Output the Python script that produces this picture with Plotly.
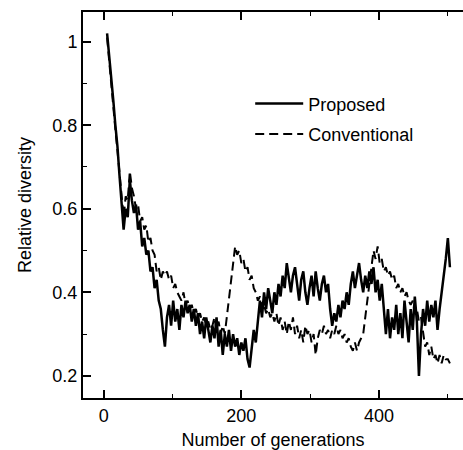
import plotly.graph_objects as go

# Relative diversity, sampled every 3 generations starting at generation 5
gen_start = 5
gen_step = 3

proposed = [
    1.02, 0.97, 0.92, 0.86, 0.80, 0.75, 0.68, 0.62, 0.55, 0.60,
    0.58, 0.67, 0.62, 0.59, 0.61, 0.55, 0.57, 0.51, 0.53, 0.49,
    0.50, 0.45, 0.46, 0.41, 0.43, 0.38, 0.36, 0.31, 0.27, 0.34,
    0.37, 0.32, 0.38, 0.33, 0.36, 0.31, 0.37, 0.34, 0.38, 0.35,
    0.37, 0.33, 0.36, 0.32, 0.35, 0.30, 0.33, 0.29, 0.34, 0.31,
    0.28, 0.32, 0.29, 0.34, 0.27, 0.31, 0.25, 0.30, 0.27, 0.31,
    0.26, 0.30, 0.27, 0.29, 0.25, 0.28, 0.26, 0.29, 0.24, 0.22,
    0.27, 0.31, 0.28, 0.34, 0.38, 0.34, 0.40, 0.36, 0.41, 0.38,
    0.35, 0.40, 0.37, 0.42, 0.39, 0.44, 0.41, 0.47, 0.43, 0.40,
    0.44, 0.46, 0.42, 0.38, 0.43, 0.45, 0.40, 0.37, 0.41, 0.44,
    0.39, 0.45, 0.41, 0.38, 0.42, 0.44, 0.40, 0.42, 0.36, 0.32,
    0.35, 0.33, 0.37, 0.34, 0.38, 0.36, 0.40, 0.37, 0.42, 0.45,
    0.41, 0.44, 0.47, 0.43, 0.40, 0.44, 0.41, 0.45, 0.42, 0.46,
    0.40, 0.43, 0.38, 0.42, 0.35, 0.30, 0.36, 0.29, 0.34, 0.31,
    0.37, 0.30, 0.35, 0.29, 0.38, 0.32, 0.28, 0.36, 0.31, 0.39,
    0.33, 0.20, 0.30, 0.36, 0.32, 0.38, 0.33, 0.37, 0.34, 0.38,
    0.31, 0.36, 0.40, 0.43, 0.48, 0.53, 0.46,
]

conventional = [
    1.01, 0.95, 0.90, 0.85, 0.79, 0.74, 0.69, 0.64, 0.58, 0.63,
    0.62, 0.69, 0.65, 0.63, 0.60, 0.61, 0.57, 0.58, 0.55, 0.56,
    0.52, 0.53, 0.50, 0.49, 0.45, 0.46, 0.43, 0.45, 0.44, 0.45,
    0.43, 0.44, 0.41, 0.42, 0.40, 0.39, 0.38, 0.40, 0.37, 0.38,
    0.36, 0.37, 0.35, 0.36, 0.34, 0.35, 0.33, 0.34, 0.32, 0.33,
    0.31, 0.32, 0.34, 0.31, 0.33, 0.30, 0.32, 0.30, 0.34, 0.38,
    0.43, 0.47, 0.51, 0.49, 0.50, 0.47, 0.48, 0.45, 0.46, 0.43,
    0.44, 0.41, 0.40, 0.38, 0.39, 0.36, 0.37, 0.35, 0.36, 0.34,
    0.35, 0.33, 0.35, 0.32, 0.34, 0.31, 0.33, 0.30, 0.33, 0.31,
    0.34, 0.30, 0.32, 0.29, 0.31, 0.28, 0.32, 0.30, 0.31, 0.28,
    0.30, 0.25, 0.29, 0.31, 0.30, 0.32, 0.30, 0.31, 0.29, 0.31,
    0.30, 0.32, 0.30, 0.31, 0.29, 0.30, 0.28, 0.29, 0.27, 0.26,
    0.28, 0.26, 0.28, 0.29, 0.30, 0.34, 0.38, 0.43, 0.47, 0.50,
    0.48, 0.51, 0.47, 0.48, 0.45, 0.46, 0.44, 0.45, 0.43, 0.44,
    0.41, 0.42, 0.40, 0.41, 0.39, 0.40, 0.38, 0.37, 0.38, 0.35,
    0.36, 0.33, 0.34, 0.30, 0.27, 0.28, 0.25, 0.27, 0.24, 0.25,
    0.23, 0.25, 0.23, 0.25, 0.24, 0.24, 0.23,
]

gens_p = [gen_start + gen_step * i for i in range(len(proposed))]
gens_c = [gen_start + gen_step * i for i in range(len(conventional))]

x_tickvals = [0, 200, 400]
y_tickvals = [0.2, 0.4, 0.6, 0.8, 1.0]
y_ticktext = ["0.2", "0.4", "0.6", "0.8", "1"]

FONT = "Liberation Sans, Arial, sans-serif"

fig = go.Figure()
fig.add_trace(go.Scatter(x=gens_p, y=proposed, mode="lines", name="Proposed",
                         legendgroup="p",
                         line=dict(color="black", width=2.5)))
fig.add_trace(go.Scatter(x=gens_c, y=conventional, mode="lines", name="Conventional",
                         legendgroup="c",
                         line=dict(color="black", width=2, dash="9px,5px")))

fig.update_layout(
    width=463, height=450,
    margin=dict(l=83, r=0, t=12, b=52),
    paper_bgcolor="white", plot_bgcolor="white",
    font=dict(family=FONT, size=18, color="black"),
    showlegend=True,
    legend=dict(x=0.44, y=0.81, xanchor="left", yanchor="top",
                bgcolor="rgba(0,0,0,0)", font=dict(size=18, family=FONT),
                itemwidth=48, traceorder="grouped", tracegroupgap=4),
)
fig.update_xaxes(
    range=[-30, 522], showgrid=False, zeroline=False,
    showline=True, linecolor="black", linewidth=2, mirror="ticks",
    ticks="inside", ticklen=8, tickwidth=1.5, tickcolor="black",
    tickvals=x_tickvals,
    minor=dict(dtick=100, tick0=0, ticks="inside", ticklen=4, tickcolor="black", tickwidth=1.2),
    title=dict(text="Number of generations", standoff=9, font=dict(size=18)),
    tickfont=dict(size=18),
)
fig.update_yaxes(
    range=[0.147, 1.071], showgrid=False, zeroline=False,
    showline=True, linecolor="black", linewidth=2,
    ticks="inside", ticklen=8, tickwidth=1.5, tickcolor="black",
    tickvals=y_tickvals, ticktext=y_ticktext,
    minor=dict(dtick=0.1, tick0=0, ticks="inside", ticklen=4, tickcolor="black", tickwidth=1.2),
    title=dict(text="Relative diversity", standoff=16, font=dict(size=18)),
    tickfont=dict(size=18),
)

fig.write_html("out.html")
